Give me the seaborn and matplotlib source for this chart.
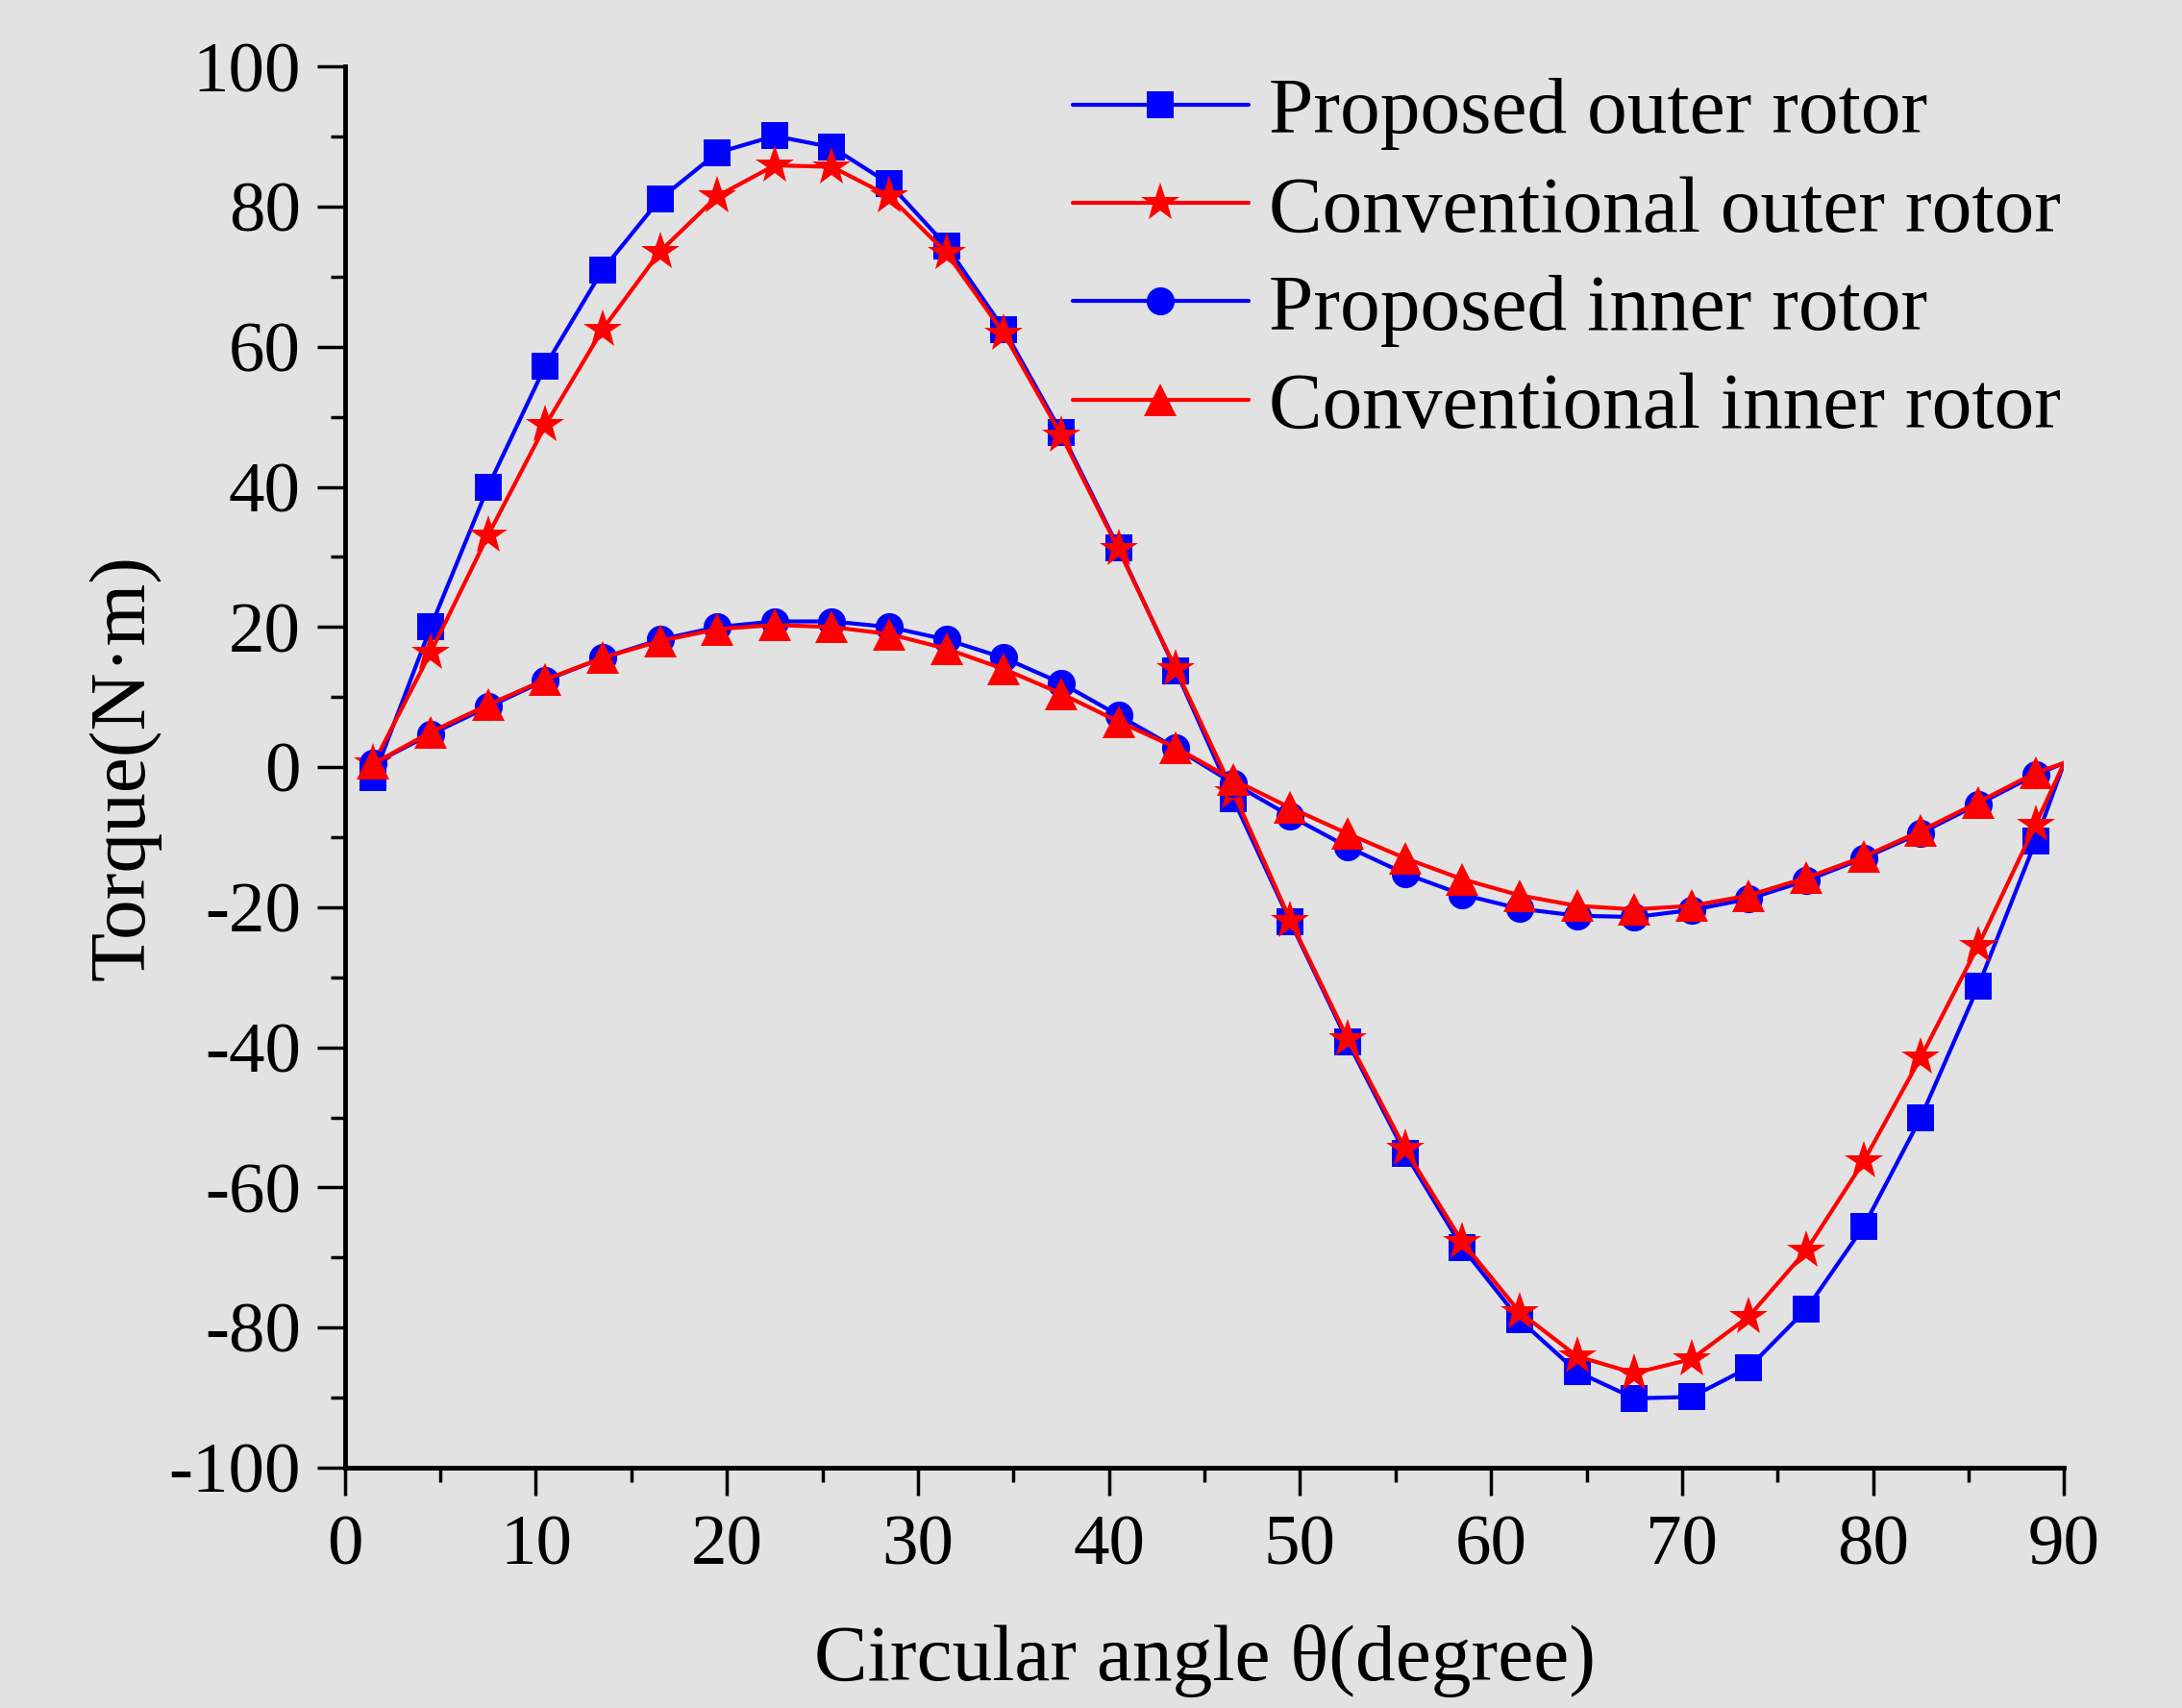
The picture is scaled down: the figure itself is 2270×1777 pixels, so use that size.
import numpy as np
import pandas as pd
import matplotlib
matplotlib.use("Agg")
import matplotlib.pyplot as plt
from matplotlib.ticker import MultipleLocator
import seaborn as sns

# Rotor angle (degree); last point 90 closes the curves, no marker there
angle = [1.5, 4.5, 7.5, 10.5, 13.5, 16.5, 19.5, 22.5, 25.5, 28.5,
         31.5, 34.5, 37.5, 40.5, 43.5, 46.5, 49.5, 52.5, 55.5, 58.5,
         61.5, 64.5, 67.5, 70.5, 73.5, 76.5, 79.5, 82.5, 85.5, 88.5, 90.0]

proposed_outer = [-1.5, 20.0, 40.0, 57.3, 71.0, 81.1, 87.7, 90.1, 88.5, 83.3,
                  74.4, 62.5, 47.8, 31.3, 13.8, -4.5, -22.1, -39.2, -55.1, -68.6,
                  -78.9, -86.3, -90.1, -89.9, -85.7, -77.4, -65.6, -50.0, -31.3, -10.6, 0.6]
conventional_outer = [0.5, 16.4, 33.1, 48.8, 62.5, 73.6, 81.5, 85.9, 85.7, 81.5,
                      73.4, 61.9, 47.4, 31.1, 14.0, -3.5, -21.9, -38.8, -54.5, -67.8,
                      -77.8, -84.1, -86.5, -84.5, -78.4, -69.0, -56.3, -41.4, -25.5, -8.2, 0.6]
proposed_inner = [0.5, 4.7, 8.6, 12.4, 15.6, 18.2, 20.0, 20.8, 20.8, 20.0,
                  18.2, 15.6, 12.0, 7.4, 2.7, -2.3, -7.0, -11.4, -15.2, -18.2,
                  -20.2, -21.2, -21.4, -20.4, -18.8, -16.2, -13.0, -9.4, -5.3, -1.1, 0.6]
conventional_inner = [0.5, 5.0, 8.9, 12.5, 15.6, 18.0, 19.7, 20.3, 20.0, 19.0,
                      16.9, 14.0, 10.5, 6.5, 2.8, -1.8, -5.8, -9.5, -13.0, -16.0,
                      -18.3, -19.8, -20.3, -19.8, -18.3, -15.8, -12.8, -9.1, -5.0, -0.8, 0.6]

labels = ["Proposed outer rotor", "Conventional outer rotor",
          "Proposed inner rotor", "Conventional inner rotor"]

df = pd.DataFrame({"angle": angle,
                   labels[0]: proposed_outer,
                   labels[1]: conventional_outer,
                   labels[2]: proposed_inner,
                   labels[3]: conventional_inner})

bg = "#e2e2e2"
sns.set_theme(style="ticks")
plt.rcParams["font.family"] = ["Liberation Serif", "DejaVu Serif"]
plt.rcParams["axes.unicode_minus"] = False
plt.rcParams["text.color"] = "black"
plt.rcParams["axes.labelcolor"] = "black"
plt.rcParams["xtick.color"] = "black"
plt.rcParams["ytick.color"] = "black"

fig = plt.figure(figsize=(22.7, 17.77), dpi=100, facecolor=bg)
ax = fig.add_axes([0.158, 0.1407, 0.788, 0.8203])
ax.set_facecolor(bg)

styles = [("blue", "s", 20), ("red", "*", 30), ("blue", "o", 21), ("red", "^", 25)]
for name, (col, mk, ms) in zip(labels, styles):
    sns.lineplot(data=df, x="angle", y=name, ax=ax, color=col, marker=mk,
                 markersize=ms, markeredgewidth=0, linewidth=3.0,
                 markevery=list(range(len(angle) - 1)), label=name,
                 estimator=None, sort=False)

ax.set_xlim(0, 90)
ax.set_ylim(-100, 100)
ax.xaxis.set_major_locator(MultipleLocator(10))
ax.xaxis.set_minor_locator(MultipleLocator(5))
ax.yaxis.set_major_locator(MultipleLocator(20))
ax.yaxis.set_minor_locator(MultipleLocator(10))

for s in ["top", "right"]:
    ax.spines[s].set_visible(False)
for s in ["left", "bottom"]:
    ax.spines[s].set_linewidth(3.5)
    ax.spines[s].set_color("black")

ax.tick_params(which="major", direction="out", length=21, width=2.5,
               labelsize=54, colors="black")
ax.tick_params(which="minor", direction="out", length=10.5, width=2.5,
               colors="black")
ax.tick_params(axis="x", pad=14)
ax.tick_params(axis="y", pad=12)

ax.set_xlabel("Circular angle θ(degree)", fontsize=60, labelpad=34, color="black")
ax.set_ylabel("Torque(N·m)", fontsize=60, labelpad=6, color="black")

leg = ax.legend(loc="upper right", bbox_to_anchor=(1.026, 1.027), frameon=False,
                fontsize=60, handlelength=2.2, handletextpad=0.25,
                labelspacing=0.31, borderaxespad=0.2)
for t in leg.get_texts():
    t.set_color("black")

fig.savefig("out.png", dpi=100, facecolor=bg)
